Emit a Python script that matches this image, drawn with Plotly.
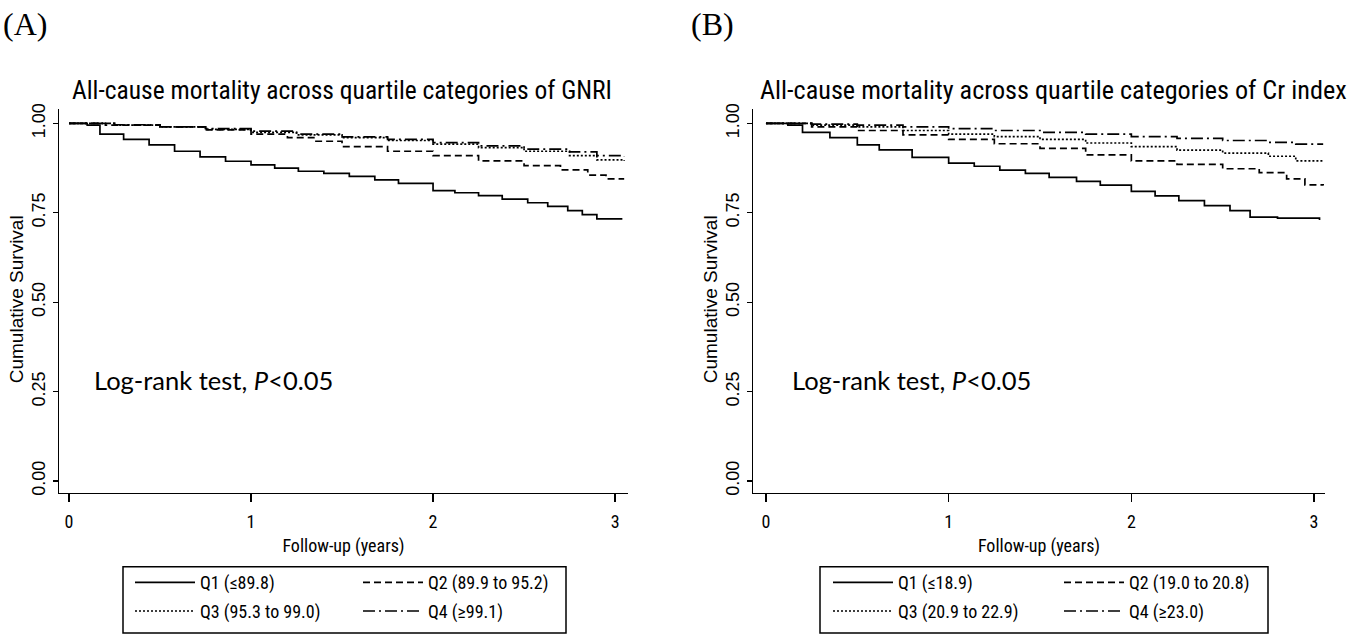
import plotly.graph_objects as go

W, H = 1356, 637

# ---------------- data ----------------
# Panel A: GNRI quartiles
tA_q1 = [0, 0.1, 0.17, 0.3, 0.44, 0.58, 0.72, 0.86, 1.0, 1.13, 1.26, 1.4, 1.54, 1.68, 1.81, 2.0, 2.12, 2.25, 2.38, 2.52, 2.63, 2.74, 2.82, 2.9, 3.04]
sA_q1 = [1.0, 0.995, 0.97, 0.955, 0.94, 0.922, 0.906, 0.894, 0.884, 0.875, 0.866, 0.86, 0.852, 0.842, 0.832, 0.812, 0.806, 0.798, 0.788, 0.778, 0.768, 0.756, 0.745, 0.733, 0.733]
tA_q2 = [0, 0.2, 0.5, 0.75, 1.0, 1.2, 1.35, 1.5, 1.75, 2.0, 2.25, 2.5, 2.7, 2.85, 2.95, 3.05]
sA_q2 = [1.0, 0.995, 0.99, 0.982, 0.97, 0.96, 0.95, 0.935, 0.922, 0.91, 0.895, 0.882, 0.87, 0.855, 0.845, 0.845]
tA_q3 = [0, 0.25, 0.5, 0.75, 1.0, 1.25, 1.5, 1.75, 2.0, 2.25, 2.5, 2.75, 2.9, 3.05]
sA_q3 = [1.0, 0.995, 0.99, 0.983, 0.975, 0.968, 0.96, 0.952, 0.942, 0.932, 0.922, 0.91, 0.898, 0.895]
tA_q4 = [0, 0.25, 0.5, 0.75, 1.0, 1.25, 1.5, 1.75, 2.0, 2.25, 2.5, 2.75, 2.9, 3.05]
sA_q4 = [1.0, 0.996, 0.99, 0.985, 0.978, 0.97, 0.962, 0.955, 0.946, 0.937, 0.928, 0.92, 0.91, 0.907]

# Panel B: Cr index quartiles
tB_q1 = [0, 0.12, 0.2, 0.35, 0.5, 0.62, 0.8, 1.0, 1.14, 1.28, 1.42, 1.55, 1.7, 1.83, 2.0, 2.13, 2.26, 2.4, 2.54, 2.65, 2.8, 3.03]
sB_q1 = [1.0, 0.995, 0.975, 0.96, 0.94, 0.926, 0.905, 0.889, 0.88, 0.869, 0.86, 0.849, 0.838, 0.827, 0.81, 0.797, 0.784, 0.77, 0.756, 0.738, 0.735, 0.73]
tB_q2 = [0, 0.25, 0.5, 0.75, 1.0, 1.25, 1.5, 1.75, 2.0, 2.25, 2.5, 2.7, 2.85, 2.95, 3.05]
sB_q2 = [1.0, 0.99, 0.98, 0.968, 0.955, 0.943, 0.93, 0.912, 0.895, 0.885, 0.873, 0.862, 0.845, 0.828, 0.826]
tB_q3 = [0, 0.25, 0.5, 0.75, 1.0, 1.25, 1.5, 1.75, 2.0, 2.25, 2.5, 2.75, 2.9, 3.05]
sB_q3 = [1.0, 0.995, 0.99, 0.98, 0.97, 0.963, 0.955, 0.945, 0.935, 0.925, 0.917, 0.908, 0.895, 0.892]
tB_q4 = [0, 0.25, 0.5, 0.75, 1.0, 1.25, 1.5, 1.75, 2.0, 2.25, 2.5, 2.75, 2.9, 3.05]
sB_q4 = [1.0, 0.998, 0.995, 0.99, 0.985, 0.98, 0.975, 0.97, 0.963, 0.958, 0.952, 0.947, 0.942, 0.942]

labels_A = ["Q1 (≤89.8)", "Q2 (89.9 to 95.2)", "Q3 (95.3 to 99.0)", "Q4 (≥99.1)"]
labels_B = ["Q1 (≤18.9)", "Q2 (19.0 to 20.8)", "Q3 (20.9 to 22.9)", "Q4 (≥23.0)"]
titles = ["All-cause mortality across quartile categories of GNRI",
          "All-cause mortality across quartile categories of Cr index"]
panel_tags = ["(A)", "(B)"]
x_title = "Follow-up (years)"
y_title = "Cumulative Survival"
x_ticks = [0, 1, 2, 3]
y_ticks = [0.0, 0.25, 0.5, 0.75, 1.0]
y_tick_text = ["0.00", "0.25", "0.50", "0.75", "1.00"]

# ---------------- styling ----------------
NARROW = "Liberation Sans Narrow, Arial Narrow, Roboto Condensed, Liberation Sans, sans-serif"
WIDE = "Liberation Sans, Arial, sans-serif"
dashes = ["solid", "7px,4px", "2px,2px", "12px,4px,2px,4px"]
LW = 1.7

def px_x(p):
    return p / W

def px_y(p):
    return (H - p) / H

fig = go.Figure()

panels = [
    dict(series=[(tA_q1, sA_q1), (tA_q2, sA_q2), (tA_q3, sA_q3), (tA_q4, sA_q4)], labels=labels_A,
         xa="x", ya="y", legends=["legend", "legend2", "legend3", "legend4"]),
    dict(series=[(tB_q1, sB_q1), (tB_q2, sB_q2), (tB_q3, sB_q3), (tB_q4, sB_q4)], labels=labels_B,
         xa="x2", ya="y2", legends=["legend5", "legend6", "legend7", "legend8"]),
]

for p in panels:
    for (t, s), lab, dsh, lg in zip(p["series"], p["labels"], dashes, p["legends"]):
        fig.add_trace(go.Scatter(x=t, y=s, mode="lines", name=lab,
                                 line=dict(color="black", width=LW, dash=dsh, shape="hv"),
                                 xaxis=p["xa"], yaxis=p["ya"], legend=lg, showlegend=True,
                                 hoverinfo="skip"))

ydom = [px_y(494), px_y(105)]
axis_common_x = dict(showline=True, linecolor="black", linewidth=1.3, ticks="outside", ticklen=8,
                     tickcolor="black", tickwidth=1.3, tickvals=x_ticks, showgrid=False, zeroline=False,
                     ticklabelstandoff=4, fixedrange=True,
                     tickfont=dict(family=NARROW, size=18, color="black"),
                     title=dict(text=x_title, font=dict(family=NARROW, size=18, color="black"), standoff=8))
axis_common_y = dict(showline=True, linecolor="black", linewidth=1.3, ticks="outside", ticklen=5,
                     tickcolor="black", tickwidth=1.3, tickvals=y_ticks, ticktext=y_tick_text, tickangle=-90,
                     showgrid=False, zeroline=False, range=[-0.033, 1.041], ticklabelstandoff=1,
                     fixedrange=True, tickfont=dict(family=WIDE, size=18, color="black"))

fig.update_layout(
    width=W, height=H,
    margin=dict(l=0, r=0, t=0, b=0),
    paper_bgcolor="white", plot_bgcolor="white",
    xaxis=dict(domain=[px_x(59), px_x(628)], range=[-0.055, 3.071], anchor="y", **axis_common_x),
    yaxis=dict(domain=ydom, anchor="x", **axis_common_y),
    xaxis2=dict(domain=[px_x(753), px_x(1325)], range=[-0.071, 3.06], anchor="y2", **axis_common_x),
    yaxis2=dict(domain=ydom, anchor="x2", **axis_common_y),
)

# y axis titles (rotated)
for tx in [16, 710]:
    fig.add_annotation(text=y_title, x=px_x(tx), y=px_y(298), xref="paper", yref="paper", showarrow=False,
                       textangle=-90, xanchor="center", yanchor="middle",
                       font=dict(family=WIDE, size=19, color="black"))

# legends: two rows x two columns per panel, inside a drawn frame
leg_font = dict(family=NARROW, size=18, color="black")
rows_y = [px_y(585), px_y(614)]
colsA = [130, 358]
colsB = [828, 1059]
for cols, names in [(colsA, ["legend", "legend2", "legend3", "legend4"]),
                    (colsB, ["legend5", "legend6", "legend7", "legend8"])]:
    pos = [(cols[0], rows_y[0]), (cols[1], rows_y[0]), (cols[0], rows_y[1]), (cols[1], rows_y[1])]
    for nm, (lx, ly) in zip(names, pos):
        fig.update_layout({nm: dict(x=px_x(lx), y=ly, xref="paper", yref="paper", xanchor="left",
                                    yanchor="middle", bgcolor="rgba(0,0,0,0)", borderwidth=0,
                                    font=leg_font, itemwidth=60, itemclick=False, itemdoubleclick=False)})

for x0, x1 in [(123, 566), (820, 1268)]:
    fig.add_shape(type="rect", xref="paper", yref="paper", x0=px_x(x0), x1=px_x(x1),
                  y0=px_y(636), y1=px_y(569), line=dict(color="black", width=1.5))

# titles and tags
for tag, tx in zip(panel_tags, [25, 712]):
    fig.add_annotation(text=tag, x=px_x(tx), y=px_y(19), xref="paper", yref="paper", showarrow=False,
                       xanchor="center", yanchor="middle",
                       font=dict(family="Liberation Serif, DejaVu Serif, serif", size=32, color="black"))
for ttl, tx, sz in zip(titles, [342, 1053], [25.5, 26.2]):
    fig.add_annotation(text=ttl, x=px_x(tx), y=px_y(86), xref="paper", yref="paper", showarrow=False,
                       xanchor="center", yanchor="middle",
                       font=dict(family=NARROW, size=sz, color="black"))
for tx in [92, 790]:
    fig.add_annotation(text="Log-rank test, <i>P</i>&lt;0.05", x=px_x(tx), y=px_y(380), xref="paper",
                       yref="paper", showarrow=False, xanchor="left", yanchor="middle",
                       font=dict(family="Lato, Open Sans, sans-serif", size=25.5, color="black"))

fig.write_html("out.html", config={"displayModeBar": False, "staticPlot": True},
               post_script="document.body.style.margin='0';document.body.style.overflow='hidden';")
